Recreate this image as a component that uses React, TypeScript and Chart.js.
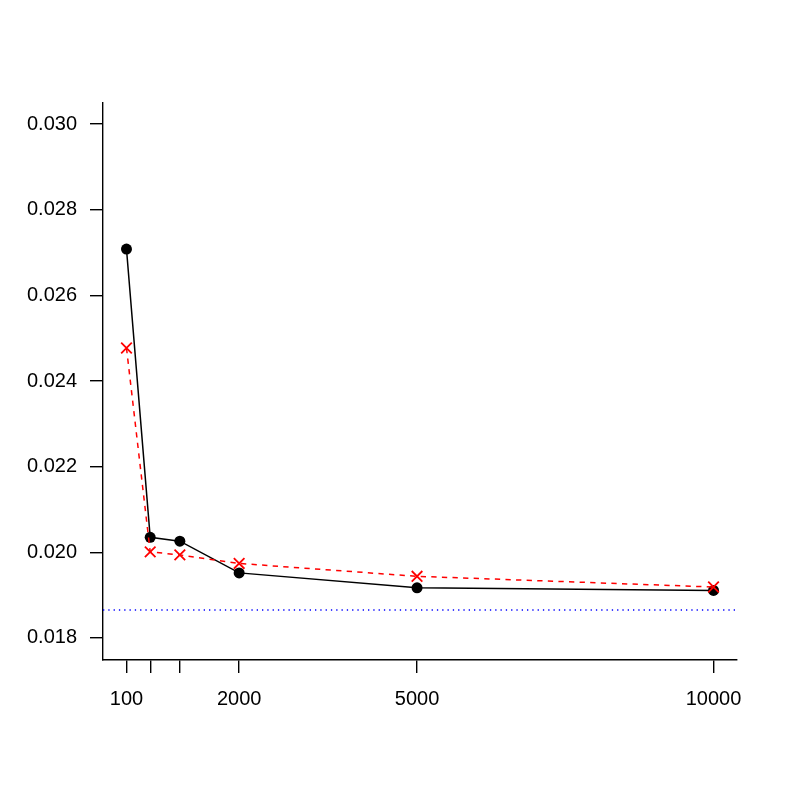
import React, { useEffect, useRef } from "react";
import { Chart, registerables } from "chart.js";

Chart.register(...registerables);

const xValues = [100, 500, 1000, 2000, 5000, 10000];
const blackSeries = [0.02708, 0.02035, 0.02026, 0.01952, 0.01917, 0.01911];
const redSeries = [0.02477, 0.02001, 0.01994, 0.01974, 0.01944, 0.01919];
const refLevel = 0.018653;
const xTicks = [100, 500, 1000, 2000, 5000, 10000];
const xTickLabels = ["100", "", "", "2000", "5000", "10000"];
const yTicks = [0.018, 0.02, 0.022, 0.024, 0.026, 0.028, 0.03];
const xMin = -296;
const xMax = 10396;
const yMin = 0.017486;
const yMax = 0.03049;

export default function App() {
  const ref = useRef<HTMLCanvasElement | null>(null);
  useEffect(() => {
    if (!ref.current) return;
    const font = { family: "'Liberation Sans', Arial, sans-serif", size: 20 };
    const chart = new Chart(ref.current, {
      type: "line",
      data: {
        datasets: [
          {
            label: "red",
            data: xValues.map((x, i) => ({ x, y: redSeries[i] })),
            borderColor: "#ff0000",
            backgroundColor: "#ff0000",
            borderWidth: 1.5,
            borderDash: [5.3, 5.3],
            pointStyle: "crossRot",
            pointRadius: 7.5,
            pointBorderWidth: 1.8,
            pointBorderColor: "#ff0000",
            tension: 0,
            order: 0,
          },
          {
            label: "black",
            data: xValues.map((x, i) => ({ x, y: blackSeries[i] })),
            borderColor: "#000000",
            backgroundColor: "#000000",
            borderWidth: 1.5,
            pointStyle: "circle",
            pointRadius: 5.5,
            pointBorderWidth: 0,
            tension: 0,
            order: 1,
          },
          {
            label: "ref",
            data: [
              { x: xMin, y: refLevel },
              { x: xMax, y: refLevel },
            ],
            borderColor: "#0000ff",
            borderWidth: 1.3,
            borderDash: [1.3, 4],
            pointRadius: 0,
            tension: 0,
            order: 2,
          },
        ],
      },
      options: {
        responsive: false,
        animation: false,
        layout: { padding: { top: 103, right: 52, left: 0, bottom: 0 } },
        plugins: { legend: { display: false }, tooltip: { enabled: false } },
        scales: {
          x: {
            type: "linear",
            min: xMin,
            max: xMax,
            afterBuildTicks: (scale: any) => {
              scale.ticks = xTicks.map((v) => ({ value: v }));
            },
            afterFit: (scale: any) => {
              scale.height = 129;
            },
            ticks: {
              autoSkip: false,
              maxRotation: 0,
              padding: 14,
              color: "#000",
              font,
              callback: (v: any) => {
                const i = xTicks.indexOf(Number(v));
                return i >= 0 ? xTickLabels[i] : "";
              },
            },
            grid: {
              drawOnChartArea: false,
              drawTicks: true,
              tickLength: 13,
              color: "#000",
              lineWidth: 1.4,
            },
            border: { display: true, color: "#000", width: 1.4 },
          },
          y: {
            type: "linear",
            min: yMin,
            max: yMax,
            afterBuildTicks: (scale: any) => {
              scale.ticks = yTicks.map((v) => ({ value: v }));
            },
            afterFit: (scale: any) => {
              scale.width = 103;
            },
            ticks: {
              padding: 13,
              color: "#000",
              font,
              callback: (v: any) => Number(v).toFixed(3),
            },
            grid: {
              drawOnChartArea: false,
              drawTicks: true,
              tickLength: 13,
              color: "#000",
              lineWidth: 1.4,
            },
            border: { display: true, color: "#000", width: 1.4 },
          },
        },
      },
    });
    return () => chart.destroy();
  }, []);
  return (
    <div style={{ position: "absolute", left: 0, top: 0, width: 789, height: 789, background: "#fff" }}>
      <canvas ref={ref} width={789} height={789} style={{ width: 789, height: 789, display: "block" }} />
    </div>
  );
}
